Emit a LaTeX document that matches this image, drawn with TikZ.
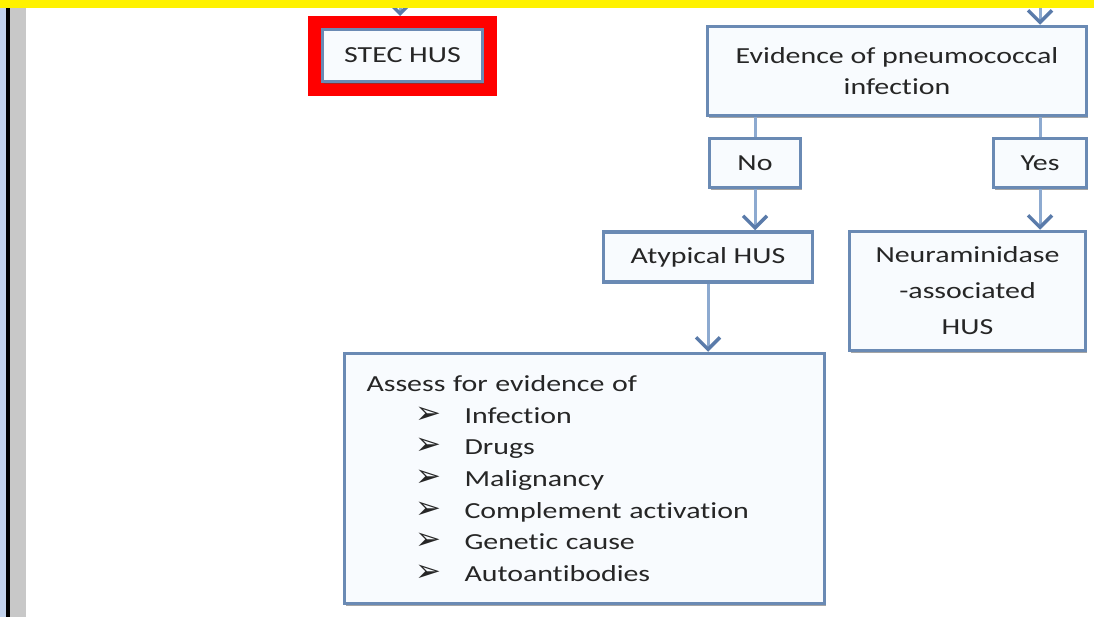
\documentclass[tikz,border=0pt]{standalone}
\usepackage{fontspec}
\setmainfont{Carlito}[FakeStretch=1.3, Ligatures=NoCommon]
\newfontfamily\dejavu{DejaVu Sans}
\usetikzlibrary{arrows.meta,shadows}
\definecolor{boxline}{HTML}{6A8AB4}
\definecolor{boxfill}{HTML}{F8FBFE}
\definecolor{conn}{HTML}{8DAAD0}
\definecolor{tipcol}{HTML}{5A7BAA}
\definecolor{textcol}{HTML}{262626}
\definecolor{stripblue}{HTML}{C2D2EC}
\definecolor{stripgray}{HTML}{C8C8C8}
\newcommand\bl{\hspace*{49pt}\makebox[49pt][l]{\dejavu\fontsize{31}{31}\selectfont ➢}}
\tikzset{
  box/.style={draw=boxline, line width=3.5pt, fill=boxfill, text=textcol,
    font=\fontsize{23}{31}\selectfont, align=center, inner sep=0pt,
    drop shadow={shadow xshift=1.5pt, shadow yshift=-2.5pt, fill=black!70, opacity=0.5}},
  conline/.style={draw=conn, line width=3pt},
  conarrow/.style={conline, -{Straight Barb[length=12pt,width=24pt,line width=3.5pt,color=tipcol]}}
}
\begin{document}
\begin{tikzpicture}[x=1pt,y=-1pt]
\useasboundingbox (0,0) rectangle (1094,617);
\fill[white] (0,0) rectangle (1094,617);
% left strip
\fill[stripblue] (0,8) rectangle (6,617);
\fill[black] (6,8) rectangle (10,617);
\fill[stripgray] (10,8) rectangle (26,617);
% red frame
\fill[red] (308,16) rectangle (497,96);
% nodes
\node[box, minimum width=160, minimum height=52] (stec) at (402.5,55.5) {STEC HUS};
\node[box, minimum width=379, minimum height=89] (evidence) at (897,71) {Evidence of pneumococcal\\infection};
\node[box, minimum width=91, minimum height=49] (no) at (755,163) {No};
\node[box, minimum width=93, minimum height=49] (yes) at (1040,163) {Yes};
\node[box, minimum width=209, minimum height=50] (atyp) at (708,257) {Atypical HUS};
\node[box, minimum width=236, minimum height=119, font=\fontsize{23}{36}\selectfont] (neur) at (967.5,291) {Neuraminidase\\-associated\\HUS};
\node[box, minimum height=250, text width=436, align=left, inner xsep=22pt,
  font=\fontsize{23}{31.6}\selectfont] (assess) at (584.5,478.5)
  {Assess for evidence of\\
   \bl Infection\\
   \bl Drugs\\
   \bl Malignancy\\
   \bl Complement activation\\
   \bl Genetic cause\\
   \bl Autoantibodies};
% connectors
\coordinate (stecin) at (400,0);
\coordinate (stectip) at (400,16);
\coordinate (evin) at (1040,0);
\draw[conarrow] (stecin) -- (stectip);
\draw[conarrow] (evin) -- (evidence.north -| evin);
\draw[conline] (evidence.south -| no.north) -- (no.north);
\draw[conline] (evidence.south -| yes.north) -- (yes.north);
\draw[conarrow] (no.south) -- (atyp.north -| no.south);
\draw[conarrow] (yes.south) -- (neur.north -| yes.south);
\draw[conarrow] (atyp.south) -- (assess.north -| atyp.south);
% top band
\fill[yellow] (0,0) rectangle (1094,8);
\end{tikzpicture}
\end{document}
